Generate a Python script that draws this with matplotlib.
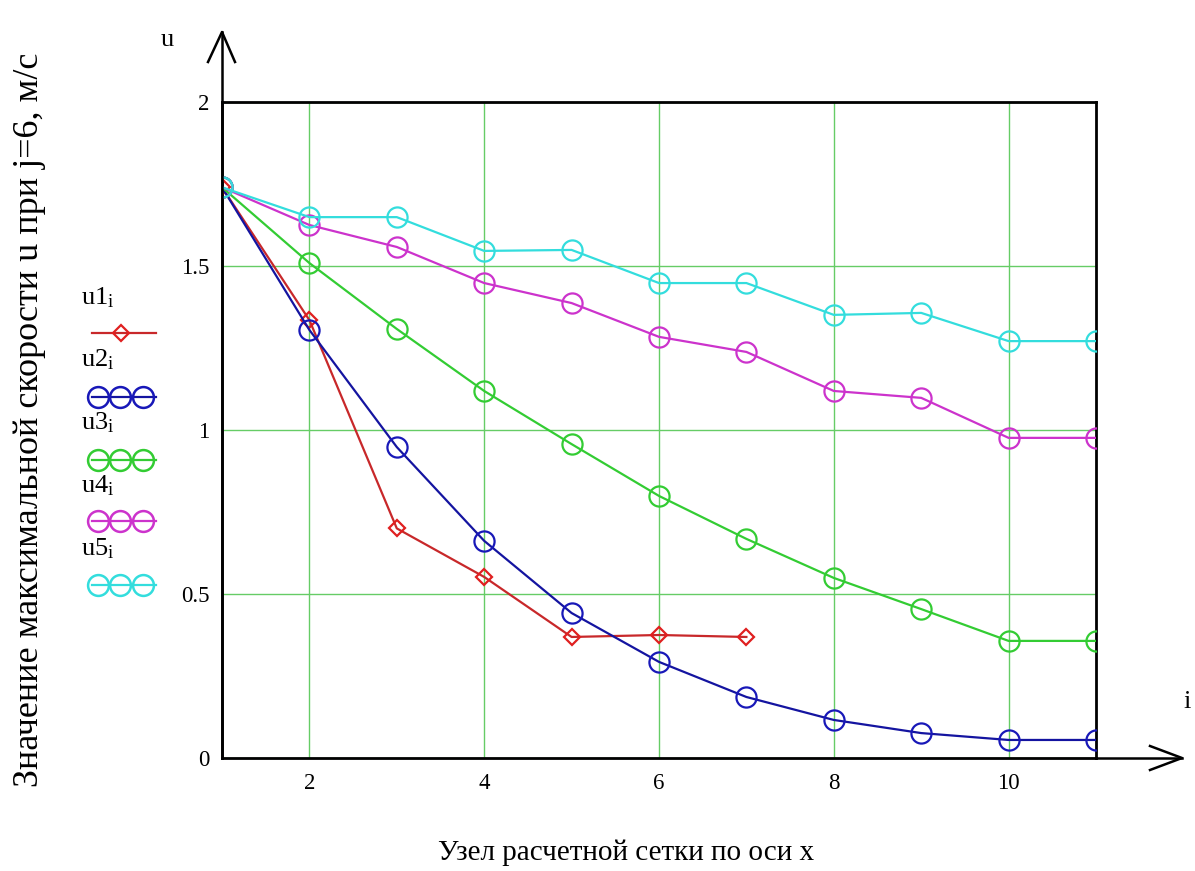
import matplotlib
matplotlib.use("Agg")
import matplotlib.pyplot as plt
from matplotlib.lines import Line2D

plt.rcParams['font.family'] = ['Liberation Serif', 'DejaVu Serif']
plt.rcParams['mathtext.fontset'] = 'custom'
plt.rcParams['mathtext.rm'] = 'Liberation Serif'
plt.rcParams['mathtext.it'] = 'Liberation Serif'

# ---- data ----
nodes = [1, 2, 3, 4, 5, 6, 7, 8, 9, 10, 11]
u1 = [1.74, 1.335, 0.70, 0.552, 0.369, 0.375, 0.369]
u2 = [1.74, 1.305, 0.948, 0.662, 0.442, 0.293, 0.186, 0.116, 0.076, 0.055, 0.055]
u3 = [1.74, 1.509, 1.308, 1.119, 0.957, 0.799, 0.668, 0.549, 0.454, 0.357, 0.357]
u4 = [1.74, 1.625, 1.558, 1.448, 1.387, 1.284, 1.238, 1.119, 1.098, 0.976, 0.976]
u5 = [1.74, 1.649, 1.649, 1.546, 1.549, 1.448, 1.448, 1.351, 1.357, 1.271, 1.271]
series_labels = ["u1", "u2", "u3", "u4", "u5"]
x_ticks = [2, 4, 6, 8, 10]
y_ticks = [0, 0.5, 1, 1.5, 2]
x_label = "Узел расчетной сетки по оси x"
y_label = "Значение максимальной скорости u при j=6, м/с"

W, H = 1195, 871
fig = plt.figure(figsize=(W / 100, H / 100), dpi=100)
L, R, T, B = 222, 1096, 102, 758
ax = fig.add_axes([L / W, 1 - B / H, (R - L) / W, (B - T) / H])

line_colors = ["#c8282a", "#1414a0", "#33cc33", "#cc33cc", "#33dddd"]
marker_colors = ["#e02020", "#1818b8", "#33cc33", "#cc33cc", "#33dddd"]

ax.plot(nodes[:len(u1)], u1, color=line_colors[0], lw=1.6, marker='D', ms=8.5,
        mfc='none', mec=marker_colors[0], mew=1.6, zorder=3)
for k, s in enumerate([u2, u3, u4, u5], start=1):
    ax.plot(nodes[:len(s)], s, color=line_colors[k], lw=1.6, marker='o', ms=14.5,
            mfc='none', mec=marker_colors[k], mew=1.6, zorder=3)

ax.set_xlim(1, 11)
ax.set_ylim(0, 2)
ax.set_xticks(x_ticks)
ax.set_yticks(y_ticks)
ax.set_xticklabels([str(v) for v in x_ticks])
ax.set_yticklabels(["0", "0.5", "1", "1.5", "2"])
ax.tick_params(length=0, labelsize=16.5)
ax.tick_params(axis='x', pad=11)
ax.tick_params(axis='y', pad=9)
ax.grid(True, color="#66cc66", lw=1.0)
ax.set_axisbelow(True)
for sp in ax.spines.values():
    sp.set_color("black")
    sp.set_linewidth(2)


def fx(px):
    return px / W


def fy(py):
    return 1 - py / H


# axis arrows
arrow_kw = dict(color="black", lw=1.8, transform=fig.transFigure)
fig.add_artist(Line2D([fx(222), fx(222)], [fy(758), fy(32)], **arrow_kw))
fig.add_artist(Line2D([fx(208), fx(222), fx(235)], [fy(62), fy(32), fy(62)], **arrow_kw))
fig.add_artist(Line2D([fx(1096), fx(1182)], [fy(758), fy(758)], **arrow_kw))
fig.add_artist(Line2D([fx(1150), fx(1182), fx(1150)], [fy(746), fy(758), fy(770)], **arrow_kw))

fig.text(fx(167), fy(40), "u", fontsize=19, ha="center", va="center")
fig.text(fx(1187), fy(702), "i", fontsize=19, ha="center", va="center")

fig.text(fx(30), fy(420), y_label, rotation=90, fontsize=26, ha="center", va="center")
fig.text(fx(626), fy(853), x_label, fontsize=21, ha="center", va="center")

# legend (manual, MathCAD style)
text_y = [298, 360, 423, 486, 549]
line_y = [333, 397, 460, 521, 585]
for k in range(5):
    fig.text(fx(81), fy(text_y[k]), r"$\mathregular{%s_i}$" % series_labels[k],
             fontsize=19, ha="left", va="center")
    fig.add_artist(Line2D([fx(92), fx(156)], [fy(line_y[k])] * 2, color=line_colors[k],
                          lw=1.6, transform=fig.transFigure))
    if k == 0:
        fig.add_artist(Line2D([fx(121)], [fy(line_y[k])], marker='D', ms=8.5, mfc='none',
                              mec=marker_colors[k], mew=1.6, lw=0, transform=fig.transFigure))
    else:
        fig.add_artist(Line2D([fx(98), fx(120), fx(143)], [fy(line_y[k])] * 3, marker='o',
                              ms=15, mfc='none', mec=marker_colors[k], mew=1.8, lw=0,
                              transform=fig.transFigure))

fig.savefig("out.png", dpi=100, facecolor="white")
